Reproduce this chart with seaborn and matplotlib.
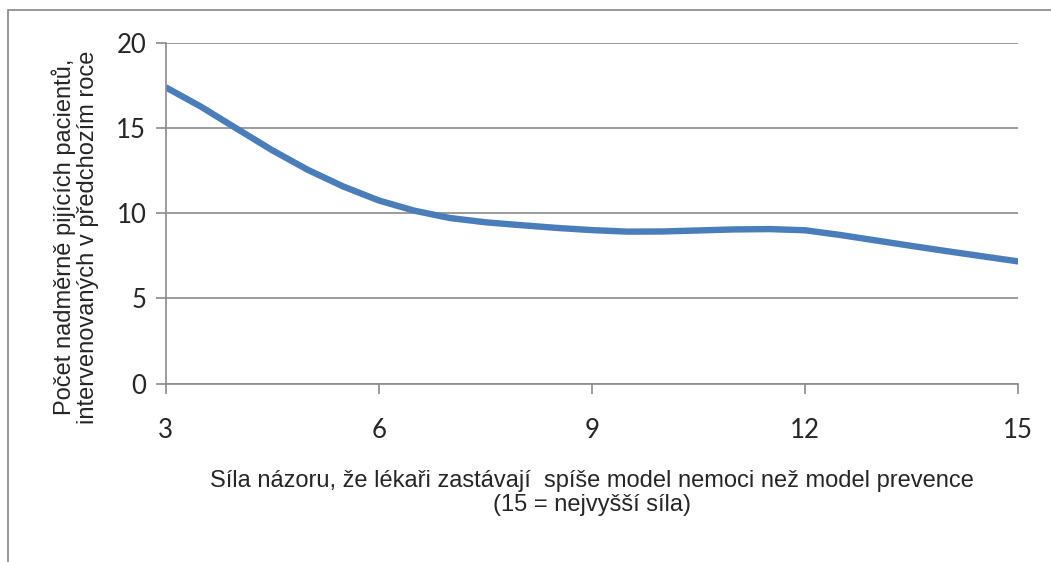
import matplotlib
matplotlib.use("Agg")
import matplotlib.pyplot as plt
import seaborn as sns
from matplotlib.patches import Rectangle

# values (every half step of the x axis)
sila_nazoru = [3, 3.5, 4, 4.5, 5, 5.5, 6, 6.5, 7, 7.5, 8, 8.5, 9,
               9.5, 10, 10.5, 11, 11.5, 12, 12.5, 13, 13.5, 14, 14.5, 15]
pocet_pacientu = [17.4, 16.25, 14.97, 13.7, 12.55, 11.57, 10.75, 10.15, 9.72, 9.47, 9.3, 9.14, 9.01,
                  8.92, 8.93, 8.99, 9.05, 9.07, 9.0, 8.72, 8.4, 8.08, 7.77, 7.47, 7.17]
x_ticks = [3, 6, 9, 12, 15]
y_ticks = [0, 5, 10, 15, 20]

line_color = '#4a7ebb'
grid_color = '#8a8a8a'

sns.set_theme(style='white')
plt.rcParams['font.family'] = ['Liberation Sans', 'DejaVu Sans']

fig = plt.figure(figsize=(10.51, 5.62), dpi=100)
ax = fig.add_axes([165.7 / 1051, 1 - 383.5 / 562, (1018.3 - 165.7) / 1051, (383.5 - 43) / 562])

sns.lineplot(x=sila_nazoru, y=pocet_pacientu, ax=ax, color=line_color,
             linewidth=4.6, solid_joinstyle='round', solid_capstyle='butt')

ax.set_xlim(3, 15)
ax.set_ylim(0, 20)
ax.set_xticks(x_ticks)
ax.set_yticks(y_ticks)
ax.set_xticklabels([str(v) for v in x_ticks], fontfamily='Lato', fontsize=18.5)
ax.set_yticklabels([str(v) for v in y_ticks], fontfamily='Lato', fontsize=18.5)

ax.yaxis.grid(True, color=grid_color, linewidth=1.2)
ax.xaxis.grid(False)
for s in ['top', 'right']:
   ax.spines[s].set_visible(False)
for s in ['left', 'bottom']:
   ax.spines[s].set_color(grid_color)
   ax.spines[s].set_linewidth(1.2)
ax.tick_params(axis='both', direction='out', length=7, width=1.2, color=grid_color,
               left=True, bottom=True)
ax.tick_params(axis='y', pad=7)
ax.tick_params(axis='x', pad=18)
ax.set_xlabel('')
ax.set_ylabel('')

fig.text(592 / 1051, 1 - 493 / 562,
         'Síla názoru, že lékaři zastávají  spíše model nemoci než model prevence\n(15 = nejvyšší síla)',
         ha='center', va='center', fontsize=17, linespacing=1.08)
fig.text(75 / 1051, 1 - 237 / 562,
         'Počet nadměrně pijících pacientů,\nintervenovaných v předchozím roce',
         ha='center', va='center', rotation=90, fontsize=17, linespacing=1.08)

# outer chart frame (cut off at right and bottom like the reference)
fig.patches.append(Rectangle((7.5 / 1051, -0.1), 1.2, 1 - 9.5 / 562 + 0.1,
                             transform=fig.transFigure, fill=False,
                             edgecolor='#868686', linewidth=1.2))

fig.savefig('out.png', dpi=100)
